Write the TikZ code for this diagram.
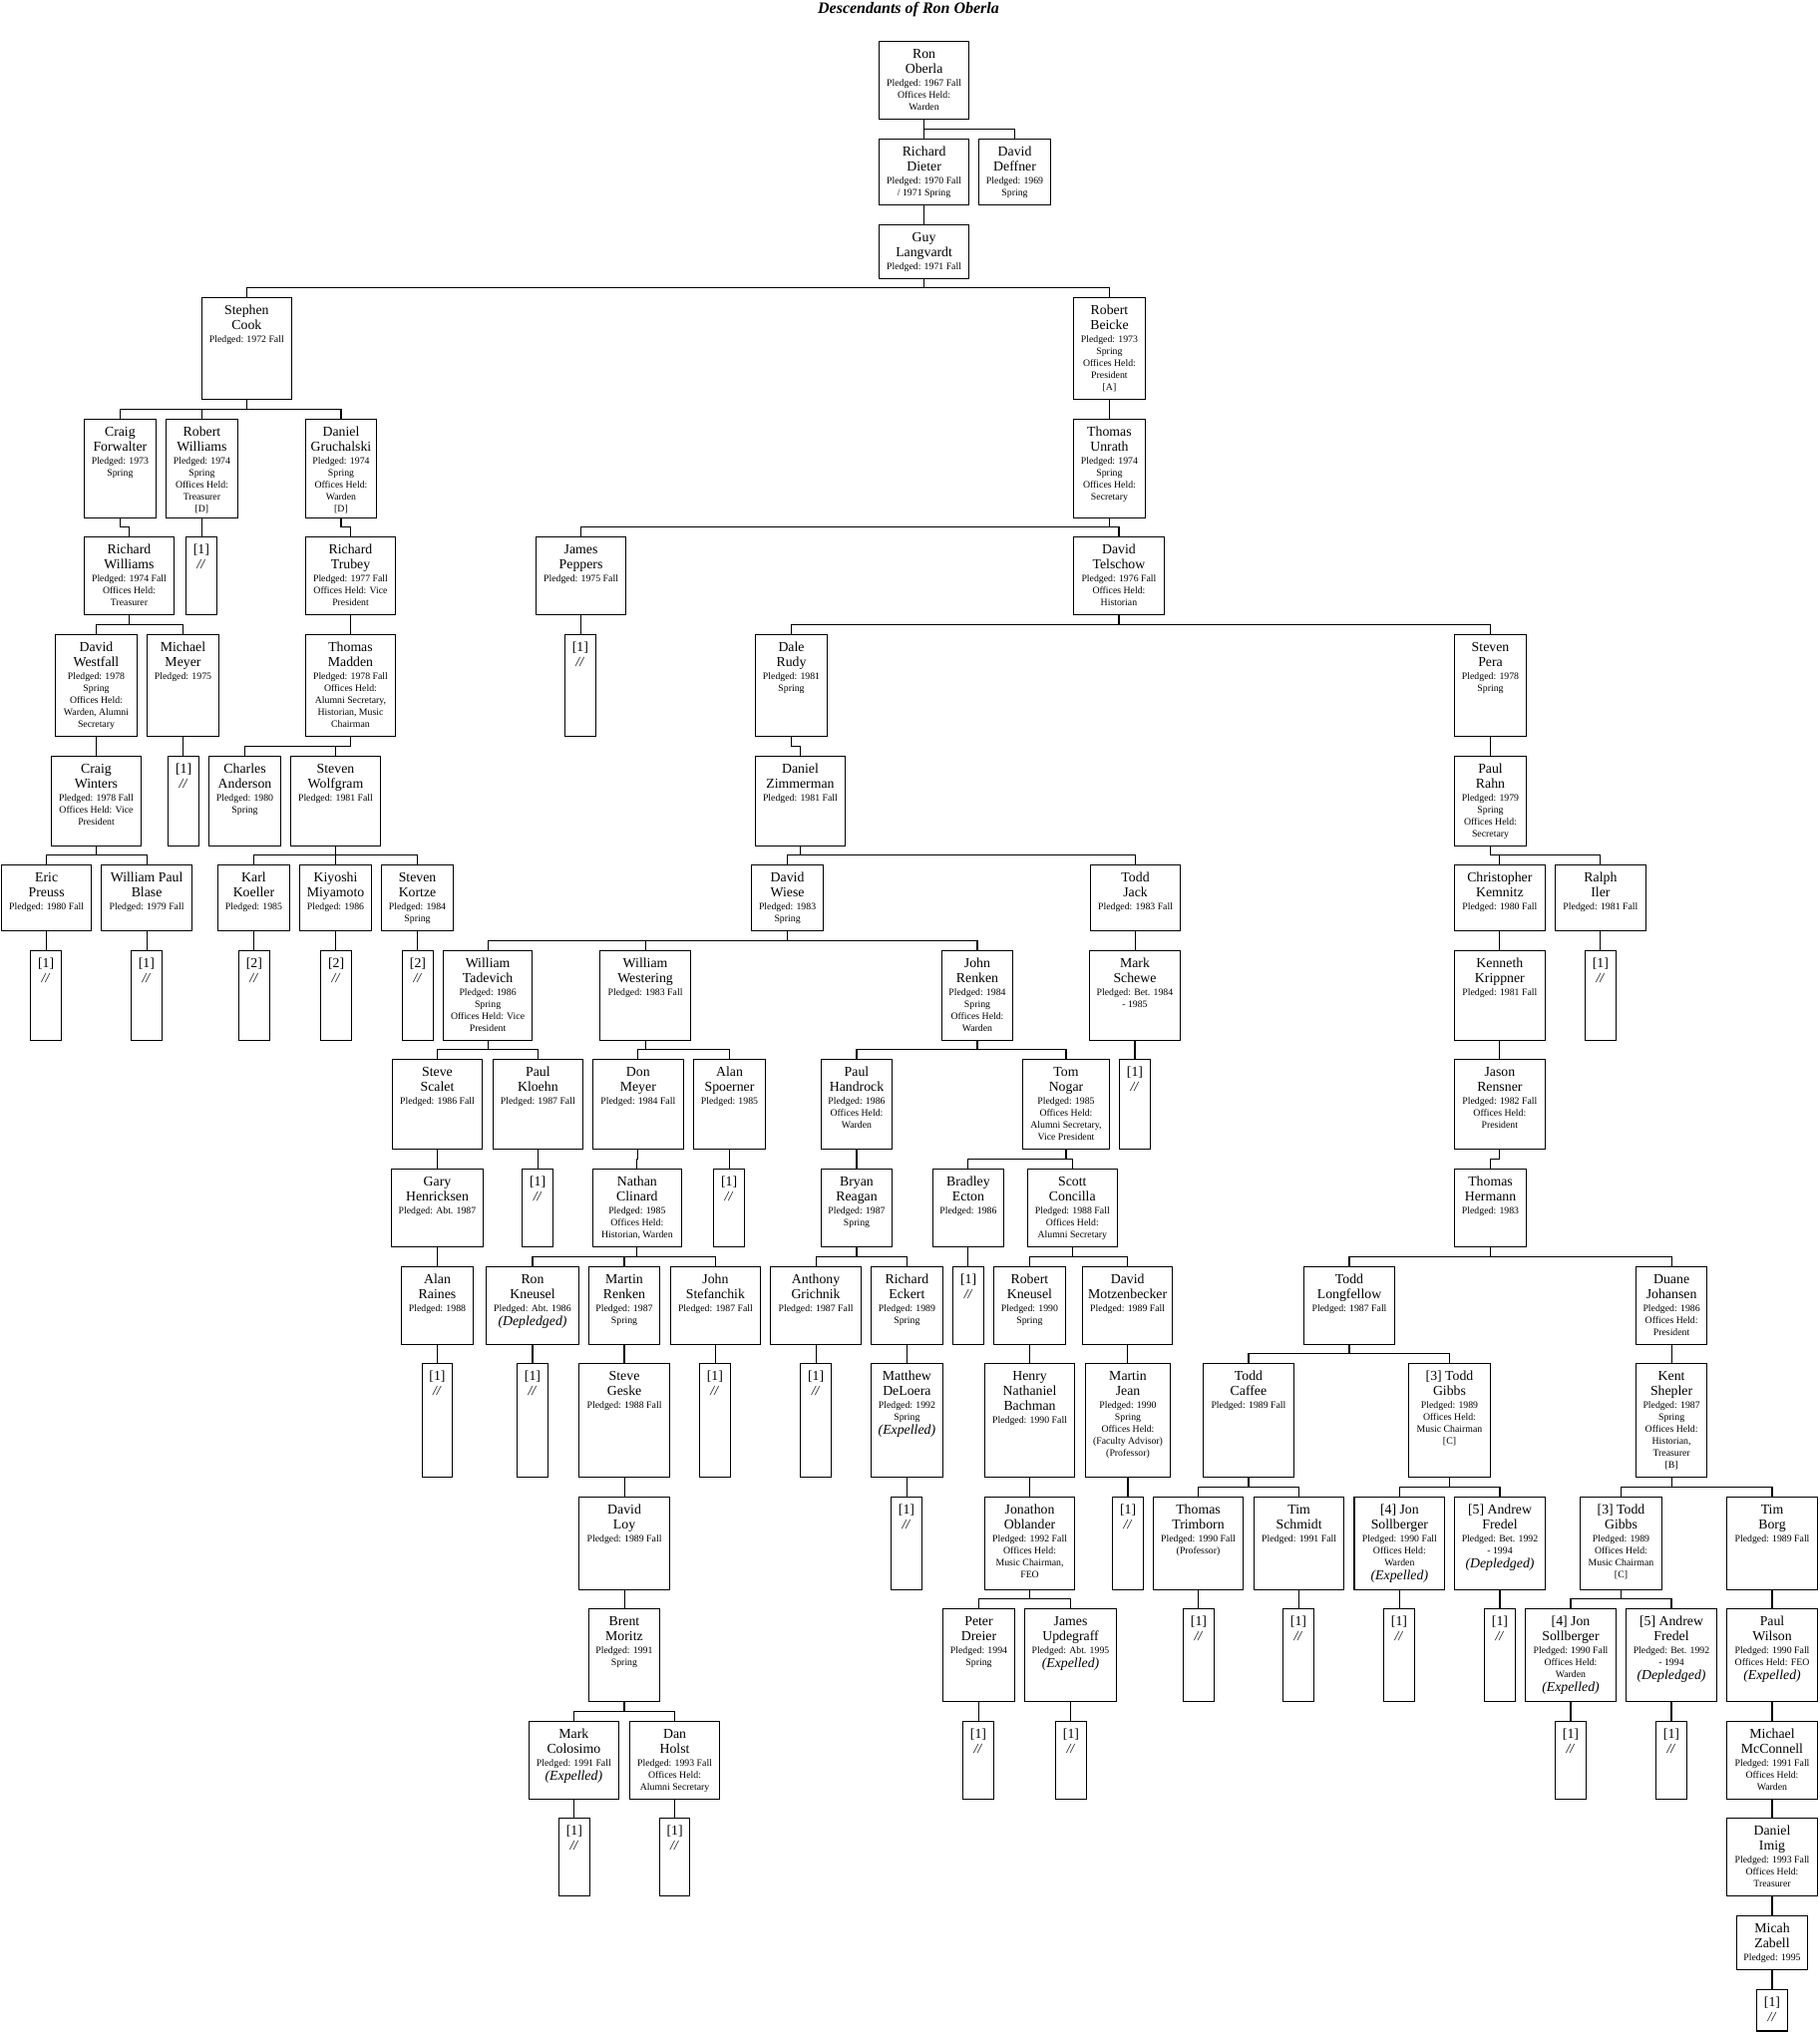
\documentclass[tikz,border=0pt]{standalone}
\usepackage{fontspec}
\setmainfont{Liberation Serif}
\newcommand{\Nm}[1]{{\fontsize{13.8pt}{15pt}\selectfont\rule{0pt}{17pt}#1\par}}
\newcommand{\Dt}[1]{\vspace{1pt}{\fontsize{9.8pt}{12pt}\selectfont #1\par}}
\newcommand{\Ex}[1]{{\fontsize{13.8pt}{14pt}\selectfont\itshape #1\par}}
\newcommand{\Lf}[1]{\Nm{[#1]\\\textit{//}}}
\tikzset{
  pbox/.style={draw, line width=1.1pt, inner sep=0pt, outer sep=0pt},
  conn/.style={line width=1.1pt}
}
\newcommand{\pbx}[6]{%
  \node[pbox] (#1) at ({(#2+#4)/2},{(#3+#5)/2})
  {\begin{minipage}[c][\dimexpr #5pt-#3pt\relax][t]{\dimexpr #4pt-#2pt\relax}\centering #6\end{minipage}};}
% family connector (bar 10px above the child row)
\newcommand{\cn}[2]{\draw[conn] (#1.south) |- ([yshift=10pt]#2.north) -- (#2.north);}
% straight single-child connector
\newcommand{\cs}[2]{\draw[conn] (#1.south) -- (#1.south |- #2.north);}
\newcommand{\GibbsTxt}{\Nm{[3] Todd\\Gibbs}\Dt{Pledged: 1989\\Offices Held:\\Music Chairman\\{}[C]}}
\newcommand{\SollTxt}{\Nm{[4] Jon\\Sollberger}\Dt{Pledged: 1990 Fall\\Offices Held:\\Warden}\Ex{(Expelled)}}
\newcommand{\FredTxt}{\Nm{[5] Andrew\\Fredel}\Dt{Pledged: Bet. 1992\\- 1994}\Ex{(Depledged)}}
\begin{document}
\begin{tikzpicture}[x=1pt,y=-1pt]
\fill[white] (0,0) rectangle (1824,2039);
\useasboundingbox (0,0) rectangle (1824,2039);
\node[font=\fontsize{16pt}{18pt}\selectfont\bfseries\itshape, anchor=base, inner sep=0pt] (title) at (911,14) {Descendants of Ron Oberla};
% R0-R4
\pbx{ron}{881.5}{41.2}{971.7}{119.3}{\Nm{Ron\\Oberla}\Dt{Pledged: 1967 Fall\\Offices Held:\\Warden}}
\pbx{dieter}{881.5}{139.3}{971.7}{205.2}{\Nm{Richard\\Dieter}\Dt{Pledged: 1970 Fall\\/ 1971 Spring}}
\pbx{deffner}{981.6}{139.3}{1053.5}{205.2}{\Nm{David\\Deffner}\Dt{Pledged: 1969\\Spring}}
\pbx{guy}{881.5}{225.5}{971.7}{279.2}{\Nm{Guy\\Langvardt}\Dt{Pledged: 1971 Fall}}
\pbx{cook}{202.1}{298.5}{292.6}{400.6}{\Nm{Stephen\\Cook}\Dt{Pledged: 1972 Fall}}
\pbx{beicke}{1076.5}{298.5}{1148.4}{400.6}{\Nm{Robert\\Beicke}\Dt{Pledged: 1973\\Spring\\Offices Held:\\President\\{}[A]}}
\pbx{forwalter}{84.2}{420.6}{156.6}{519.6}{\Nm{Craig\\Forwalter}\Dt{Pledged: 1973\\Spring}}
\pbx{robwill}{166.5}{420.6}{238.4}{519.6}{\Nm{Robert\\Williams}\Dt{Pledged: 1974\\Spring\\Offices Held:\\Treasurer\\{}[D]}}
\pbx{gruch}{306.4}{420.6}{377.6}{519.6}{\Nm{Daniel\\Gruchalski}\Dt{Pledged: 1974\\Spring\\Offices Held:\\Warden\\{}[D]}}
\pbx{unrath}{1076.5}{420.6}{1148.4}{519.6}{\Nm{Thomas\\Unrath}\Dt{Pledged: 1974\\Spring\\Offices Held:\\Secretary}}
% R5
\pbx{richwill}{84.2}{538.4}{174.8}{616.5}{\Nm{Richard\\Williams}\Dt{Pledged: 1974 Fall\\Offices Held:\\Treasurer}}
\pbx{robwillA}{186.2}{538.4}{217.5}{616.5}{\Lf{1}}
\pbx{trubey}{306.4}{538.4}{396.6}{616.5}{\Nm{Richard\\Trubey}\Dt{Pledged: 1977 Fall\\Offices Held: Vice\\President}}
\pbx{peppers}{537.4}{538.4}{627.7}{616.5}{\Nm{James\\Peppers}\Dt{Pledged: 1975 Fall}}
\pbx{telschow}{1076.5}{538.4}{1167.4}{616.5}{\Nm{David\\Telschow}\Dt{Pledged: 1976 Fall\\Offices Held:\\Historian}}
% R6
\pbx{westfall}{55.4}{636.4}{137.6}{738.5}{\Nm{David\\Westfall}\Dt{Pledged: 1978\\Spring\\Offices Held:\\Warden, Alumni\\Secretary}}
\pbx{mmeyer}{147.5}{636.4}{219.5}{738.5}{\Nm{Michael\\Meyer}\Dt{Pledged: 1975}}
\pbx{madden}{306.4}{636.4}{396.6}{738.5}{\Nm{Thomas\\Madden}\Dt{Pledged: 1978 Fall\\Offices Held:\\Alumni Secretary,\\Historian, Music\\Chairman}}
\pbx{peppersA}{566.2}{636.4}{597.5}{738.5}{\Lf{1}}
\pbx{rudy}{757.4}{636.4}{829.7}{738.5}{\Nm{Dale\\Rudy}\Dt{Pledged: 1981\\Spring}}
\pbx{pera}{1458.3}{636.4}{1530.7}{738.5}{\Nm{Steven\\Pera}\Dt{Pledged: 1978\\Spring}}
% R7
\pbx{winters}{51.4}{758.5}{141.6}{848.4}{\Nm{Craig\\Winters}\Dt{Pledged: 1978 Fall\\Offices Held: Vice\\President}}
\pbx{mmeyerA}{168.4}{758.5}{199.7}{848.4}{\Lf{1}}
\pbx{anderson}{209.6}{758.5}{281.5}{848.4}{\Nm{Charles\\Anderson}\Dt{Pledged: 1980\\Spring}}
\pbx{wolfgram}{291.4}{758.5}{381.6}{848.4}{\Nm{Steven\\Wolfgram}\Dt{Pledged: 1981 Fall}}
\pbx{zimmerman}{757.4}{758.5}{847.5}{848.4}{\Nm{Daniel\\Zimmerman}\Dt{Pledged: 1981 Fall}}
\pbx{rahn}{1458.3}{758.5}{1530.7}{848.4}{\Nm{Paul\\Rahn}\Dt{Pledged: 1979\\Spring\\Offices Held:\\Secretary}}
% R8
\pbx{preuss}{1.6}{867.3}{91.7}{933.3}{\Nm{Eric\\Preuss}\Dt{Pledged: 1980 Fall}}
\pbx{blase}{101.6}{867.3}{192.6}{933.3}{\Nm{William Paul\\Blase}\Dt{Pledged: 1979 Fall}}
\pbx{koeller}{218.3}{867.3}{290.6}{933.3}{\Nm{Karl\\Koeller}\Dt{Pledged: 1985}}
\pbx{miyamoto}{300.5}{867.3}{372.5}{933.3}{\Nm{Kiyoshi\\Miyamoto}\Dt{Pledged: 1986}}
\pbx{kortze}{382.4}{867.3}{454.7}{933.3}{\Nm{Steven\\Kortze}\Dt{Pledged: 1984\\Spring}}
\pbx{wiese}{753.4}{867.3}{825.8}{933.3}{\Nm{David\\Wiese}\Dt{Pledged: 1983\\Spring}}
\pbx{jack}{1093.5}{867.3}{1183.6}{933.3}{\Nm{Todd\\Jack}\Dt{Pledged: 1983 Fall}}
\pbx{kemnitz}{1458.3}{867.3}{1549.4}{933.3}{\Nm{Christopher\\Kemnitz}\Dt{Pledged: 1980 Fall}}
\pbx{iler}{1559.3}{867.3}{1650.5}{933.3}{\Nm{Ralph\\Iler}\Dt{Pledged: 1981 Fall}}
% R9
\pbx{preussA}{30.4}{953.5}{61.7}{1043.7}{\Lf{1}}
\pbx{blaseA}{131.3}{953.5}{162.5}{1043.7}{\Lf{1}}
\pbx{koellerA}{239.2}{953.5}{270.5}{1043.7}{\Lf{2}}
\pbx{miyamotoA}{321.5}{953.5}{352.7}{1043.7}{\Lf{2}}
\pbx{kortzeA}{403.3}{953.5}{434.6}{1043.7}{\Lf{2}}
\pbx{tadevich}{444.4}{953.5}{533.8}{1043.7}{\Nm{William\\Tadevich}\Dt{Pledged: 1986\\Spring\\Offices Held: Vice\\President}}
\pbx{westering}{601.6}{953.5}{692.5}{1043.7}{\Nm{William\\Westering}\Dt{Pledged: 1983 Fall}}
\pbx{jrenken}{944.4}{953.5}{1015.6}{1043.7}{\Nm{John\\Renken}\Dt{Pledged: 1984\\Spring\\Offices Held:\\Warden}}
\pbx{schewe}{1092.3}{953.5}{1183.6}{1043.7}{\Nm{Mark\\Schewe}\Dt{Pledged: Bet. 1984\\- 1985}}
\pbx{krippner}{1458.3}{953.5}{1549.4}{1043.7}{\Nm{Kenneth\\Krippner}\Dt{Pledged: 1981 Fall}}
\pbx{ilerA}{1589.2}{953.5}{1620.6}{1043.7}{\Lf{1}}
% R10
\pbx{scalet}{393.4}{1062.3}{483.6}{1152.5}{\Nm{Steve\\Scalet}\Dt{Pledged: 1986 Fall}}
\pbx{kloehn}{494.3}{1062.3}{584.4}{1152.5}{\Nm{Paul\\Kloehn}\Dt{Pledged: 1987 Fall}}
\pbx{dmeyer}{594.3}{1062.3}{685.4}{1152.5}{\Nm{Don\\Meyer}\Dt{Pledged: 1984 Fall}}
\pbx{spoerner}{695.3}{1062.3}{767.7}{1152.5}{\Nm{Alan\\Spoerner}\Dt{Pledged: 1985}}
\pbx{handrock}{823.4}{1062.3}{894.6}{1152.5}{\Nm{Paul\\Handrock}\Dt{Pledged: 1986\\Offices Held:\\Warden}}
\pbx{nogar}{1025.5}{1062.3}{1112.5}{1152.5}{\Nm{Tom\\Nogar}\Dt{Pledged: 1985\\Offices Held:\\Alumni Secretary,\\Vice President}}
\pbx{scheweA}{1122.3}{1062.3}{1153.6}{1152.5}{\Lf{1}}
\pbx{rensner}{1458.3}{1062.3}{1549.4}{1152.5}{\Nm{Jason\\Rensner}\Dt{Pledged: 1982 Fall\\Offices Held:\\President}}
% R11
\pbx{henricksen}{392.2}{1172.5}{484.8}{1250.2}{\Nm{Gary\\Henricksen}\Dt{Pledged: Abt. 1987}}
\pbx{kloehnA}{523.5}{1172.5}{554.8}{1250.2}{\Lf{1}}
\pbx{clinard}{594.3}{1172.5}{683.4}{1250.2}{\Nm{Nathan\\Clinard}\Dt{Pledged: 1985\\Offices Held:\\Historian, Warden}}
\pbx{spoernerA}{715.5}{1172.5}{746.7}{1250.2}{\Lf{1}}
\pbx{reagan}{823.4}{1172.5}{894.6}{1250.2}{\Nm{Bryan\\Reagan}\Dt{Pledged: 1987\\Spring}}
\pbx{ecton}{935.3}{1172.5}{1006.5}{1250.2}{\Nm{Bradley\\Ecton}\Dt{Pledged: 1986}}
\pbx{concilla}{1030.2}{1172.5}{1120.4}{1250.2}{\Nm{Scott\\Concilla}\Dt{Pledged: 1988 Fall\\Offices Held:\\Alumni Secretary}}
\pbx{hermann}{1458.3}{1172.5}{1530.7}{1250.2}{\Nm{Thomas\\Hermann}\Dt{Pledged: 1983}}
% R12
\pbx{raines}{402.5}{1270.5}{474.5}{1348.3}{\Nm{Alan\\Raines}\Dt{Pledged: 1988}}
\pbx{ronkn}{487.5}{1270.5}{580.5}{1348.3}{\Nm{Ron\\Kneusel}\Dt{Pledged: Abt. 1986}\Ex{(Depledged)}}
\pbx{mrenken}{590.3}{1270.5}{661.7}{1348.3}{\Nm{Martin\\Renken}\Dt{Pledged: 1987\\Spring}}
\pbx{stefanchik}{672.4}{1270.5}{762.5}{1348.3}{\Nm{John\\Stefanchik}\Dt{Pledged: 1987 Fall}}
\pbx{grichnik}{772.4}{1270.5}{863.7}{1348.3}{\Nm{Anthony\\Grichnik}\Dt{Pledged: 1987 Fall}}
\pbx{eckert}{873.2}{1270.5}{945.6}{1348.3}{\Nm{Richard\\Eckert}\Dt{Pledged: 1989\\Spring}}
\pbx{ectonA}{955.5}{1270.5}{986.7}{1348.3}{\Lf{1}}
\pbx{robkn}{996.2}{1270.5}{1068.6}{1348.3}{\Nm{Robert\\Kneusel}\Dt{Pledged: 1990\\Spring}}
\pbx{motzen}{1085.6}{1270.5}{1175.7}{1348.3}{\Nm{David\\Motzenbecker}\Dt{Pledged: 1989 Fall}}
\pbx{longfellow}{1307.4}{1270.5}{1398.6}{1348.3}{\Nm{Todd\\Longfellow}\Dt{Pledged: 1987 Fall}}
\pbx{johansen}{1640.5}{1270.5}{1711.7}{1348.3}{\Nm{Duane\\Johansen}\Dt{Pledged: 1986\\Offices Held:\\President}}
% R13
\pbx{rainesA}{423.5}{1367.5}{453.5}{1481.5}{\Lf{1}}
\pbx{ronknA}{518.4}{1367.5}{549.6}{1481.5}{\Lf{1}}
\pbx{geske}{580.5}{1367.5}{671.6}{1481.5}{\Nm{Steve\\Geske}\Dt{Pledged: 1988 Fall}}
\pbx{stefanchikA}{701.2}{1367.5}{732.5}{1481.5}{\Lf{1}}
\pbx{grichnikA}{802.5}{1367.5}{833.7}{1481.5}{\Lf{1}}
\pbx{deloera}{873.2}{1367.5}{945.6}{1481.5}{\Nm{Matthew\\DeLoera}\Dt{Pledged: 1992\\Spring}\Ex{(Expelled)}}
\pbx{bachman}{987.5}{1367.5}{1077.6}{1481.5}{\Nm{Henry\\Nathaniel\\Bachman}\Dt{Pledged: 1990 Fall}}
\pbx{mjean}{1088.3}{1367.5}{1173.7}{1481.5}{\Nm{Martin\\Jean}\Dt{Pledged: 1990\\Spring\\Offices Held:\\(Faculty Advisor)\\(Professor)}}
\pbx{caffee}{1206.4}{1367.5}{1297.5}{1481.5}{\Nm{Todd\\Caffee}\Dt{Pledged: 1989 Fall}}
\pbx{gibbsA}{1412.5}{1367.5}{1494.5}{1481.5}{\GibbsTxt}
\pbx{shepler}{1640.5}{1367.5}{1711.7}{1481.5}{\Nm{Kent\\Shepler}\Dt{Pledged: 1987\\Spring\\Offices Held:\\Historian,\\Treasurer\\{}[B]}}
% R14
\pbx{loy}{580.5}{1501.7}{671.6}{1594.3}{\Nm{David\\Loy}\Dt{Pledged: 1989 Fall}}
\pbx{deloeraA}{893.4}{1501.7}{924.6}{1594.3}{\Lf{1}}
\pbx{oblander}{987.4}{1501.7}{1077.7}{1594.3}{\Nm{Jonathon\\Oblander}\Dt{Pledged: 1992 Fall\\Offices Held:\\Music Chairman,\\FEO}}
\pbx{mjeanA}{1115.6}{1501.7}{1146.5}{1594.3}{\Lf{1}}
\pbx{trimborn}{1156.4}{1501.7}{1246.6}{1594.3}{\Nm{Thomas\\Trimborn}\Dt{Pledged: 1990 Fall\\(Professor)}}
\pbx{schmidt}{1257.5}{1501.7}{1347.7}{1594.3}{\Nm{Tim\\Schmidt}\Dt{Pledged: 1991 Fall}}
\pbx{sollA}{1358}{1501.7}{1448.7}{1594.3}{\SollTxt}
\pbx{fredelA}{1458.4}{1501.7}{1549.6}{1594.3}{\FredTxt}
\pbx{gibbsB}{1584.4}{1501.7}{1666.6}{1594.3}{\GibbsTxt}
\pbx{borg}{1731.4}{1501.7}{1822.6}{1594.3}{\Nm{Tim\\Borg}\Dt{Pledged: 1989 Fall}}
% R15
\pbx{moritz}{590.4}{1613.3}{661.5}{1706.3}{\Nm{Brent\\Moritz}\Dt{Pledged: 1991\\Spring}}
\pbx{dreier}{945.3}{1613.3}{1017.7}{1706.3}{\Nm{Peter\\Dreier}\Dt{Pledged: 1994\\Spring}}
\pbx{updegraff}{1027.3}{1613.3}{1119.7}{1706.3}{\Nm{James\\Updegraff}\Dt{Pledged: Abt. 1995}\Ex{(Expelled)}}
\pbx{trimbornA}{1186.3}{1613.3}{1217.7}{1706.3}{\Lf{1}}
\pbx{schmidtA}{1286.3}{1613.3}{1317.7}{1706.3}{\Lf{1}}
\pbx{sollAA}{1387.3}{1613.3}{1418.7}{1706.3}{\Lf{1}}
\pbx{fredelAA}{1488.3}{1613.3}{1519.7}{1706.3}{\Lf{1}}
\pbx{sollB}{1529.3}{1613.3}{1620.7}{1706.3}{\SollTxt}
\pbx{fredelB}{1630.3}{1613.3}{1721.7}{1706.3}{\FredTxt}
\pbx{wilson}{1731.3}{1613.3}{1822.7}{1706.3}{\Nm{Paul\\Wilson}\Dt{Pledged: 1990 Fall\\Offices Held: FEO}\Ex{(Expelled)}}
% R16
\pbx{colosimo}{530.3}{1726.3}{620.4}{1804.3}{\Nm{Mark\\Colosimo}\Dt{Pledged: 1991 Fall}\Ex{(Expelled)}}
\pbx{holst}{631.5}{1726.3}{721.6}{1804.3}{\Nm{Dan\\Holst}\Dt{Pledged: 1993 Fall\\Offices Held:\\Alumni Secretary}}
\pbx{dreierA}{965.3}{1726.3}{996.7}{1804.3}{\Lf{1}}
\pbx{updegraffA}{1058.3}{1726.3}{1089.7}{1804.3}{\Lf{1}}
\pbx{sollBA}{1559.3}{1726.3}{1590.7}{1804.3}{\Lf{1}}
\pbx{fredelBA}{1660.3}{1726.3}{1691.7}{1804.3}{\Lf{1}}
\pbx{mcconnell}{1731.3}{1726.3}{1822.7}{1804.3}{\Nm{Michael\\McConnell}\Dt{Pledged: 1991 Fall\\Offices Held:\\Warden}}
% R17-R19
\pbx{colosimoA}{560.3}{1823.3}{591.5}{1901.3}{\Lf{1}}
\pbx{holstA}{661.5}{1823.3}{691.6}{1901.3}{\Lf{1}}
\pbx{imig}{1731.3}{1823.3}{1822.7}{1901.3}{\Nm{Daniel\\Imig}\Dt{Pledged: 1993 Fall\\Offices Held:\\Treasurer}}
\pbx{zabell}{1741.3}{1921.3}{1812.7}{1975.7}{\Nm{Micah\\Zabell}\Dt{Pledged: 1995}}
\pbx{zabellA}{1761.3}{1995.3}{1792.7}{2037}{\Lf{1}}
% connectors: families
\cn{ron}{dieter}\cn{ron}{deffner}
\cn{guy}{cook}\cn{guy}{beicke}
\cn{cook}{forwalter}\cn{cook}{robwill}\cn{cook}{gruch}
\cn{unrath}{peppers}\cn{unrath}{telschow}
\cn{richwill}{westfall}\cn{richwill}{mmeyer}
\cn{telschow}{rudy}\cn{telschow}{pera}
\cn{madden}{anderson}\cn{madden}{wolfgram}
\cn{winters}{preuss}\cn{winters}{blase}
\cn{wolfgram}{koeller}\cn{wolfgram}{miyamoto}\cn{wolfgram}{kortze}
\cn{zimmerman}{wiese}\cn{zimmerman}{jack}\cn{rahn}{kemnitz}\cn{rahn}{iler}
\cn{wiese}{tadevich}\cn{wiese}{westering}\cn{wiese}{jrenken}
\cn{tadevich}{scalet}\cn{tadevich}{kloehn}\cn{westering}{dmeyer}\cn{westering}{spoerner}
\cn{jrenken}{handrock}\cn{jrenken}{nogar}
\cn{nogar}{ecton}\cn{nogar}{concilla}
\cn{clinard}{ronkn}\cn{clinard}{mrenken}\cn{clinard}{stefanchik}
\cn{reagan}{grichnik}\cn{reagan}{eckert}
\cn{concilla}{robkn}\cn{concilla}{motzen}\cn{hermann}{longfellow}\cn{hermann}{johansen}
\cn{longfellow}{caffee}\cn{longfellow}{gibbsA}
\cn{caffee}{trimborn}\cn{caffee}{schmidt}\cn{gibbsA}{sollA}\cn{gibbsA}{fredelA}
\cn{shepler}{gibbsB}\cn{shepler}{borg}
\cn{oblander}{dreier}\cn{oblander}{updegraff}
\cn{gibbsB}{sollB}\cn{gibbsB}{fredelB}
\cn{moritz}{colosimo}\cn{moritz}{holst}
% single children with an offset (jog)
\cn{forwalter}{richwill}\cn{gruch}{trubey}\cn{rudy}{zimmerman}\cn{rensner}{hermann}\cn{dmeyer}{clinard}
% single children, straight
\cs{dieter}{guy}\cs{beicke}{unrath}\cs{robwill}{robwillA}\cs{trubey}{madden}\cs{peppers}{peppersA}
\cs{westfall}{winters}\cs{mmeyer}{mmeyerA}\cs{pera}{rahn}
\cs{preuss}{preussA}\cs{blase}{blaseA}\cs{koeller}{koellerA}\cs{miyamoto}{miyamotoA}\cs{kortze}{kortzeA}
\cs{jack}{schewe}\cs{kemnitz}{krippner}\cs{iler}{ilerA}
\cs{schewe}{scheweA}\cs{krippner}{rensner}
\cs{scalet}{henricksen}\cs{kloehn}{kloehnA}\cs{spoerner}{spoernerA}
\cs{handrock}{reagan}\cs{ecton}{ectonA}
\cs{henricksen}{raines}\cs{raines}{rainesA}\cs{ronkn}{ronknA}\cs{mrenken}{geske}\cs{stefanchik}{stefanchikA}
\cs{grichnik}{grichnikA}\cs{eckert}{deloera}\cs{robkn}{bachman}\cs{motzen}{mjean}\cs{johansen}{shepler}
\cs{geske}{loy}\cs{deloera}{deloeraA}\cs{bachman}{oblander}\cs{mjean}{mjeanA}
\cs{loy}{moritz}\cs{trimborn}{trimbornA}\cs{schmidt}{schmidtA}\cs{sollA}{sollAA}\cs{fredelA}{fredelAA}
\cs{borg}{wilson}\cs{dreier}{dreierA}\cs{updegraff}{updegraffA}
\cs{sollB}{sollBA}\cs{fredelB}{fredelBA}\cs{wilson}{mcconnell}
\cs{colosimo}{colosimoA}\cs{holst}{holstA}\cs{mcconnell}{imig}\cs{imig}{zabell}\cs{zabell}{zabellA}
\end{tikzpicture}
\end{document}
